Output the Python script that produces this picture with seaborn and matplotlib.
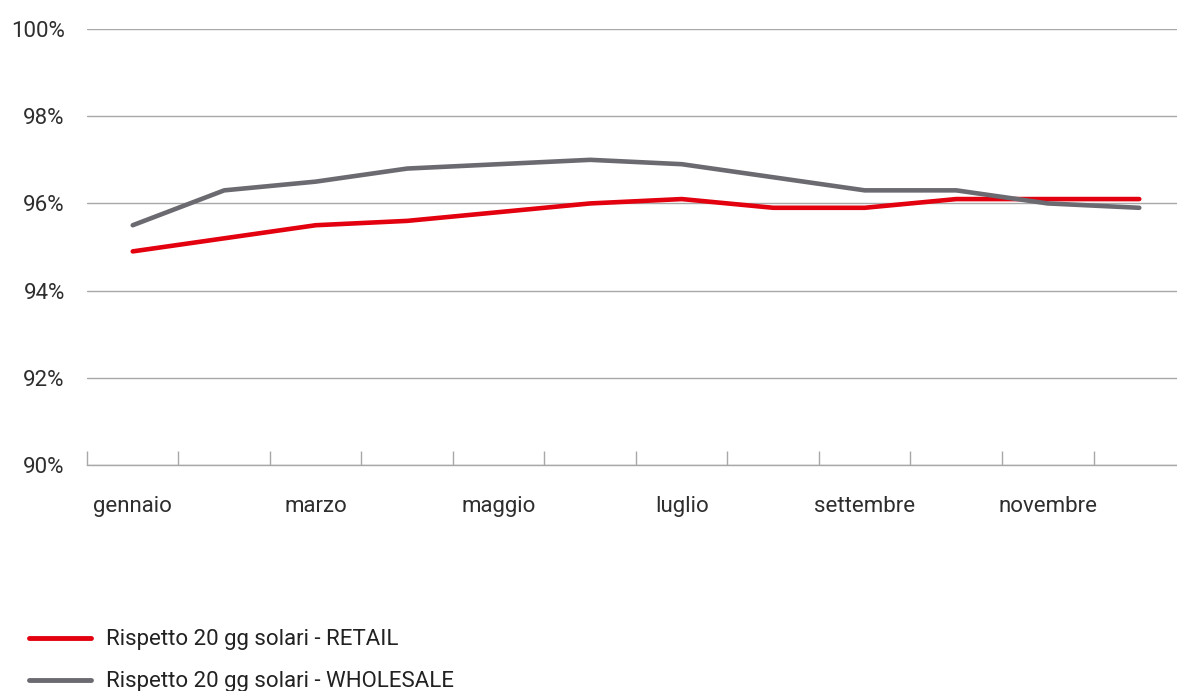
import matplotlib
matplotlib.use("Agg")
import matplotlib.pyplot as plt
import seaborn as sns
import pandas as pd
import numpy as np

mesi = ["gennaio", "febbraio", "marzo", "aprile", "maggio", "giugno",
        "luglio", "agosto", "settembre", "ottobre", "novembre", "dicembre"]
retail = [94.9, 95.2, 95.5, 95.6, 95.8, 96.0, 96.1, 95.9, 95.9, 96.1, 96.1, 96.1]
wholesale = [95.5, 96.3, 96.5, 96.8, 96.9, 97.0, 96.9, 96.6, 96.3, 96.3, 96.0, 95.9]
serie = ["Rispetto 20 gg solari - RETAIL", "Rispetto 20 gg solari - WHOLESALE"]
colori = ["#E3000F", "#6B6A70"]
y_ticks = [90, 92, 94, 96, 98, 100]

sns.set_theme(style="white")
plt.rcParams["font.family"] = ["Roboto", "DejaVu Sans"]

df = pd.DataFrame({
    "mese": np.tile(np.arange(len(mesi)), 2),
    "valore": retail + wholesale,
    "serie": np.repeat(serie, len(mesi)),
})

fig = plt.figure(figsize=(11.77, 6.91), dpi=100)
# the plot area runs slightly past the right edge of the figure
ax = fig.add_axes([0.0739, 0.327, 0.9329, 0.631])

sns.lineplot(data=df, x="mese", y="valore", hue="serie", palette=colori,
             linewidth=3.3, ax=ax, legend=False, solid_capstyle="round")

ax.set_xlim(-0.5, len(mesi) - 0.5)
ax.set_ylim(90, 100)
ax.set_yticks(y_ticks)
ax.set_yticklabels([f"{v}%" for v in y_ticks], fontsize=16, color="#2E2E2E")
ax.yaxis.grid(True, color="#A8A8A8", linewidth=1.0)
ax.tick_params(axis="y", length=0, pad=16)

# month labels every two months, tick marks between categories
ax.set_xticks(np.arange(0, len(mesi), 2))
ax.set_xticklabels(mesi[::2], fontsize=16, color="#2E2E2E")
ax.tick_params(axis="x", which="major", bottom=False, length=0, pad=22)
ax.set_xticks(np.arange(-0.5, len(mesi), 1), minor=True)
ax.tick_params(axis="x", which="minor", bottom=True, direction="in",
               length=10, color="#A8A8A8", width=1.0)
ax.set_xlabel("")
ax.set_ylabel("")

for s in ["top", "right", "left"]:
    ax.spines[s].set_visible(False)
ax.spines["bottom"].set_color("#A8A8A8")
ax.spines["bottom"].set_linewidth(1.0)

# legend at bottom left
handles = [plt.Line2D([0], [0], color=c, linewidth=3.5, solid_capstyle="round")
           for c in colori]
fig.legend(handles, serie, loc="lower left", bbox_to_anchor=(0.008, -0.031),
           frameon=False, fontsize=16, handlelength=2.75, handletextpad=0.7,
           labelspacing=0.95, labelcolor="#222222")

fig.savefig("out.png", dpi=100)
